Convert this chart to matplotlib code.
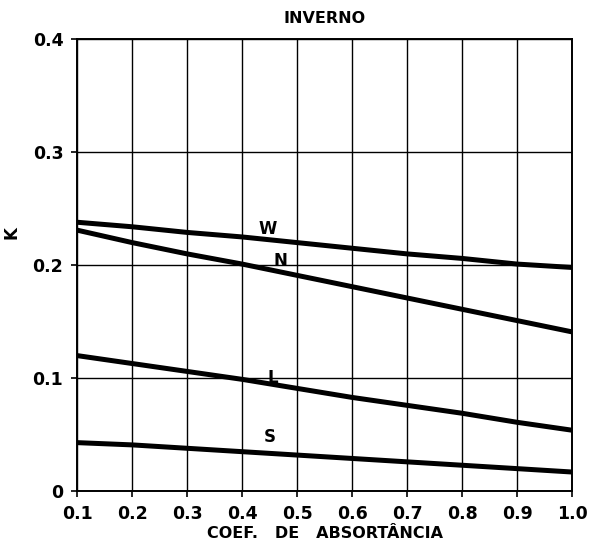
import matplotlib
matplotlib.use("Agg")
import matplotlib.pyplot as plt

# absorptance coefficient (x) and K per orientation
coef = [0.1, 0.2, 0.3, 0.4, 0.5, 0.6, 0.7, 0.8, 0.9, 1.0]
k_w = [0.238, 0.234, 0.229, 0.225, 0.220, 0.215, 0.210, 0.206, 0.201, 0.198]
k_n = [0.231, 0.220, 0.210, 0.201, 0.191, 0.181, 0.171, 0.161, 0.151, 0.141]
k_l = [0.120, 0.113, 0.106, 0.099, 0.091, 0.083, 0.076, 0.069, 0.061, 0.054]
k_s = [0.043, 0.041, 0.038, 0.035, 0.032, 0.029, 0.026, 0.023, 0.020, 0.017]

series = [("W", k_w, (0.447, 0.232)),
          ("N", k_n, (0.469, 0.204)),
          ("L", k_l, (0.455, 0.100)),
          ("S", k_s, (0.451, 0.048))]

xticks = [0.1, 0.2, 0.3, 0.4, 0.5, 0.6, 0.7, 0.8, 0.9, 1.0]
xlabels = ["0.1", "0.2", "0.3", "0.4", "0.5", "0.6", "0.7", "0.8", "0.9", "1.0"]
yticks = [0, 0.1, 0.2, 0.3, 0.4]
ylabels = ["0", "0.1", "0.2", "0.3", "0.4"]

plt.rcParams["font.family"] = "DejaVu Sans"
plt.rcParams["font.weight"] = "bold"

fig = plt.figure(figsize=(5.94, 5.44), dpi=100)
ax = fig.add_axes([0.130, 0.097, 0.833, 0.831])

for name, vals, (lx, ly) in series:
    ax.plot(coef, vals, color="black", lw=3.6, solid_capstyle="round")
    ax.text(lx, ly, name, fontsize=12, fontweight="bold", ha="center", va="center")

ax.set_xlim(0.1, 1.0)
ax.set_ylim(0, 0.4)
ax.set_xticks(xticks)
ax.set_xticklabels(xlabels, fontsize=12.5, fontweight="bold")
ax.set_yticks(yticks)
ax.set_yticklabels(ylabels, fontsize=12.5, fontweight="bold")
ax.grid(True, color="black", lw=1.0)
ax.tick_params(length=4, width=1.2, pad=6)
for sp in ax.spines.values():
    sp.set_linewidth(1.4)

ax.set_xlabel("COEF.   DE   ABSORTÂNCIA", fontsize=11.5, fontweight="bold", labelpad=2)
ax.set_ylabel("K", fontsize=12, fontweight="bold")
ax.yaxis.set_label_coords(-0.115, 0.573)
ax.set_title("INVERNO", fontsize=11.5, fontweight="bold", pad=12)

fig.savefig("out.png", dpi=100)
